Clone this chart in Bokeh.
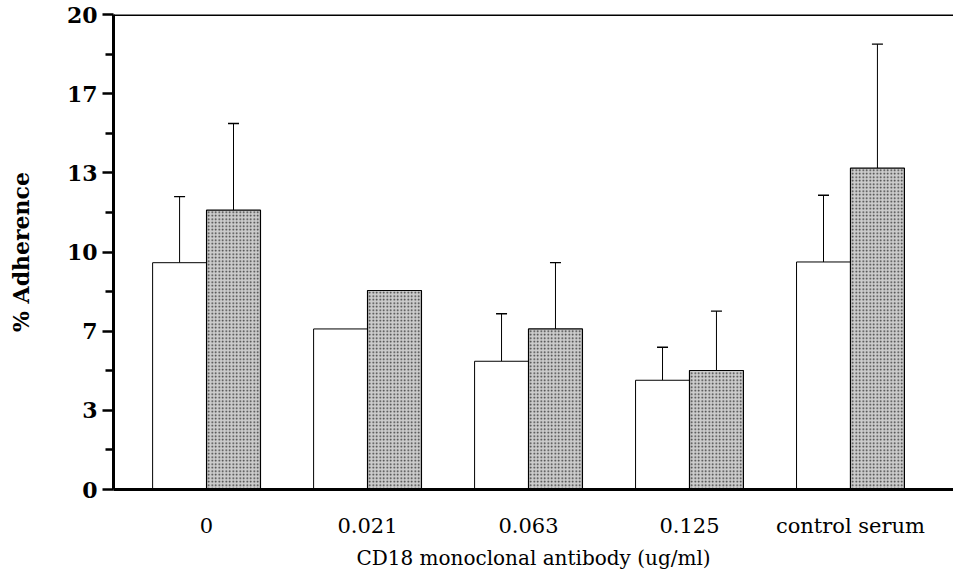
from bokeh.plotting import figure
from bokeh.models import (Range1d, FixedTicker, CustomJSTickFormatter, Span,
                          ColumnDataSource, Whisker, TeeHead)
from bokeh.embed import file_html
from bokeh.resources import INLINE
import numpy as np

# ---- data ----
categories = ["0", "0.021", "0.063", "0.125", "control serum"]
open_values = [9.55, 6.76, 5.40, 4.60, 9.58]
open_errors = [2.78, None, 2.00, 1.39, 2.81]
hatched_values = [11.76, 8.38, 6.76, 5.01, 13.53]
hatched_errors = [3.65, None, 2.79, 2.50, 5.22]
y_ticks = [0, 10/3, 20/3, 10, 40/3, 50/3, 20]
y_minor_ticks = [5/3, 5, 25/3, 35/3, 15, 55/3]

BAR_W = 0.335
idx = np.arange(len(categories))
x_open = idx - BAR_W / 2
x_hatch = idx + BAR_W / 2

p = figure(width=953, height=572, output_backend="svg", toolbar_location=None,
           x_range=Range1d(-0.578, 4.64), y_range=Range1d(0, 20),
           min_border_left=113, min_border_right=0, min_border_top=14,
           min_border_bottom=80)
p.outline_line_color = None
p.grid.visible = False
p.background_fill_color = "white"
p.border_fill_color = "white"

p.vbar(x=x_open, top=open_values, width=BAR_W, bottom=0,
       fill_color="white", line_color="black", line_width=1)
p.vbar(x=x_hatch, top=hatched_values, width=BAR_W, bottom=0,
       fill_color="#cccccc", line_color="black", line_width=1.2,
       hatch_pattern="dot", hatch_scale=3.5, hatch_color="#333333",
       hatch_weight=1.1)

def whisker_source(xs, vals, errs):
    xb, lo, up = [], [], []
    for x, v, e in zip(xs, vals, errs):
        if e is None:
            continue
        xb.append(x); lo.append(v); up.append(v + e)
    return ColumnDataSource(dict(base=xb, lower=lo, upper=up))

for xs, vals, errs in ((x_open, open_values, open_errors),
                       (x_hatch, hatched_values, hatched_errors)):
    src = whisker_source(xs, vals, errs)
    w = Whisker(base="base", lower="lower", upper="upper", source=src,
                line_color="black", line_width=1,
                lower_head=None,
                upper_head=TeeHead(size=11, line_color="black", line_width=1.3))
    p.add_layout(w)

# top border line
p.add_layout(Span(location=20, dimension="width", line_color="black", line_width=3))

# y axis
ya = p.yaxis[0]
ya.ticker = FixedTicker(ticks=y_ticks, minor_ticks=y_minor_ticks)
ya.formatter = CustomJSTickFormatter(code="return Math.round(tick).toString();")
ya.axis_line_width = 3
ya.major_tick_line_width = 2.5
ya.minor_tick_line_width = 2.5
ya.major_tick_out = 11
ya.major_tick_in = 0
ya.minor_tick_out = 8
ya.minor_tick_in = 0
ya.major_label_standoff = 5
ya.major_label_text_font = "DejaVu Serif"
ya.major_label_text_font_style = "bold"
ya.major_label_text_font_size = "22px"
ya.major_label_text_color = "black"
ya.axis_label = "% Adherence"
ya.axis_label_text_font = "DejaVu Serif"
ya.axis_label_text_font_style = "bold"
ya.axis_label_text_font_size = "22px"
ya.axis_label_text_color = "black"
ya.axis_label_standoff = 30

# x axis
xa = p.xaxis[0]
xa.ticker = FixedTicker(ticks=list(idx))
xa.major_label_overrides = {int(i): c for i, c in zip(idx, categories)}
xa.axis_line_width = 3
xa.major_tick_line_color = None
xa.minor_tick_line_color = None
xa.major_tick_out = 0
xa.major_tick_in = 0
xa.major_label_standoff = 24
xa.major_label_text_font = "DejaVu Serif"
xa.major_label_text_font_size = "21px"
xa.major_label_text_color = "black"
xa.axis_label = "CD18 monoclonal antibody (ug/ml)"
xa.axis_label_text_font = "DejaVu Serif"
xa.axis_label_text_font_style = "normal"
xa.axis_label_text_font_size = "20px"
xa.axis_label_text_color = "black"
xa.axis_label_standoff = 5

open("out.html", "w").write(file_html(p, INLINE))
